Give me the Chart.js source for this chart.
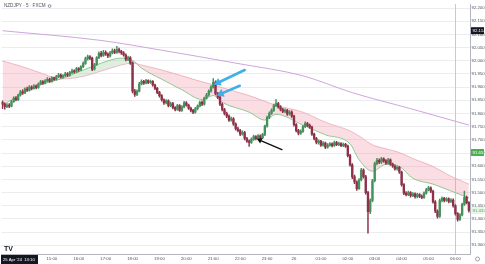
<!DOCTYPE html>
<html>
<head>
<meta charset="utf-8">
<script src="https://cdn.jsdelivr.net/npm/chart.js@4/dist/chart.umd.min.js"></script>
<style>
  html, body { margin: 0; padding: 0; background: #fff; }
  #wrap { width: 485px; height: 264px; position: relative; }
</style>
</head>
<body>
<div id="wrap"><canvas id="chart"></canvas></div>
<script>
// ── NZDJPY 5m (FXCM), 25 → 26 Apr 2024 ───────────────────────────
const symbolTitle = 'NZDJPY · 5 · FXCM';
const firstBarMinute = 13 * 60 + 10;   // first candle 13:10
const barMinutes = 5;
const firstOpen = 91.842;

const closes = [
  91.835, 91.826, 91.832, 91.828, 91.845, 91.858, 91.852, 91.870, 91.882, 91.878,
  91.893, 91.888, 91.900, 91.895, 91.904, 91.898, 91.912, 91.920, 91.915, 91.924,
  91.930, 91.922, 91.935, 91.929, 91.940, 91.946, 91.938, 91.944, 91.950, 91.945,
  91.955, 91.962, 91.958, 91.970, 91.965, 91.978, 91.990, 92.008, 92.015, 92.010,
  91.968, 91.985, 92.012, 92.028, 92.020, 92.032, 92.025, 92.018, 92.030, 92.038,
  92.032, 92.042, 92.036, 92.030, 92.022, 92.005, 92.012, 91.992, 91.885, 91.872,
  91.885, 91.912, 91.922, 91.915, 91.925, 91.918, 91.922, 91.908, 91.895, 91.880,
  91.868, 91.852, 91.840, 91.848, 91.830, 91.838, 91.822, 91.815, 91.830, 91.812,
  91.825, 91.840, 91.832, 91.820, 91.812, 91.805, 91.818, 91.828, 91.842, 91.835,
  91.858, 91.870, 91.885, 91.900, 91.918, 91.875, 91.862, 91.835, 91.815, 91.800,
  91.790, 91.775, 91.780, 91.760, 91.742, 91.735, 91.722, 91.728, 91.705, 91.695,
  91.690, 91.702, 91.712, 91.705, 91.715, 91.708, 91.720, 91.752, 91.785, 91.800,
  91.812, 91.830, 91.838, 91.825, 91.815, 91.808, 91.812, 91.798, 91.805, 91.790,
  91.758, 91.735, 91.725, 91.732, 91.750, 91.762, 91.755, 91.748, 91.722, 91.705,
  91.690, 91.695, 91.680, 91.688, 91.672, 91.680, 91.685, 91.678, 91.690, 91.682,
  91.686, 91.678, 91.683, 91.676, 91.640, 91.605, 91.560, 91.540, 91.515, 91.548,
  91.585, 91.560, 91.500, 91.428, 91.470, 91.545, 91.610, 91.622, 91.615, 91.628,
  91.620, 91.612, 91.624, 91.608, 91.600, 91.590, 91.596, 91.578, 91.530, 91.498,
  91.492, 91.500, 91.488, 91.495, 91.484, 91.492, 91.486, 91.482, 91.498, 91.510,
  91.518, 91.505, 91.465, 91.430, 91.410, 91.470, 91.478, 91.470, 91.476, 91.466,
  91.472, 91.450, 91.420, 91.398, 91.415, 91.455, 91.482, 91.462, 91.432
];

const highs = [
  91.848, 91.840, 91.838, 91.838, 91.850, 91.863, 91.864, 91.874, 91.888, 91.890,
  91.897, 91.900, 91.906, 91.905, 91.910, 91.909, 91.916, 91.926, 91.925, 91.929,
  91.936, 91.934, 91.940, 91.938, 91.945, 91.952, 91.950, 91.948, 91.956, 91.955,
  91.960, 91.968, 91.966, 91.975, 91.974, 91.982, 91.996, 92.014, 92.022, 92.020,
  92.014, 91.990, 92.016, 92.034, 92.036, 92.040, 92.038, 92.030, 92.036, 92.045,
  92.044, 92.055, 92.048, 92.040, 92.035, 92.026, 92.018, 92.016, 91.996, 91.892,
  91.890, 91.918, 91.928, 91.926, 91.930, 91.928, 91.927, 91.925, 91.912, 91.899,
  91.884, 91.872, 91.856, 91.853, 91.852, 91.843, 91.842, 91.826, 91.835, 91.834,
  91.830, 91.846, 91.845, 91.836, 91.824, 91.816, 91.823, 91.833, 91.847, 91.848,
  91.862, 91.876, 91.890, 91.906, 91.932, 91.924, 91.880, 91.866, 91.840, 91.820,
  91.805, 91.795, 91.786, 91.784, 91.765, 91.748, 91.740, 91.734, 91.732, 91.710,
  91.700, 91.708, 91.718, 91.716, 91.720, 91.719, 91.725, 91.756, 91.790, 91.806,
  91.818, 91.836, 91.853, 91.842, 91.830, 91.820, 91.818, 91.816, 91.811, 91.810,
  91.794, 91.762, 91.740, 91.738, 91.755, 91.768, 91.766, 91.760, 91.752, 91.726,
  91.710, 91.700, 91.698, 91.693, 91.692, 91.686, 91.690, 91.689, 91.695, 91.694,
  91.692, 91.690, 91.688, 91.687, 91.680, 91.645, 91.610, 91.566, 91.545, 91.553,
  91.592, 91.590, 91.565, 91.505, 91.476, 91.550, 91.616, 91.630, 91.628, 91.634,
  91.632, 91.625, 91.630, 91.628, 91.612, 91.605, 91.601, 91.600, 91.582, 91.534,
  91.504, 91.506, 91.504, 91.500, 91.499, 91.497, 91.496, 91.491, 91.503, 91.516,
  91.524, 91.522, 91.509, 91.470, 91.435, 91.475, 91.484, 91.482, 91.481, 91.480,
  91.477, 91.476, 91.454, 91.424, 91.420, 91.460, 91.506, 91.487, 91.466
];

const lows = [
  91.818, 91.816, 91.822, 91.822, 91.825, 91.842, 91.848, 91.849, 91.866, 91.872,
  91.875, 91.884, 91.885, 91.889, 91.892, 91.893, 91.895, 91.908, 91.910, 91.912,
  91.920, 91.918, 91.919, 91.925, 91.926, 91.936, 91.934, 91.934, 91.940, 91.940,
  91.942, 91.951, 91.953, 91.955, 91.960, 91.962, 91.974, 91.986, 92.002, 92.004,
  91.962, 91.964, 91.982, 92.008, 92.015, 92.016, 92.020, 92.012, 92.014, 92.026,
  92.027, 92.028, 92.030, 92.024, 92.017, 91.999, 92.000, 91.986, 91.878, 91.865,
  91.868, 91.882, 91.908, 91.910, 91.912, 91.913, 91.914, 91.904, 91.890, 91.875,
  91.862, 91.847, 91.834, 91.836, 91.825, 91.826, 91.817, 91.810, 91.812, 91.808,
  91.808, 91.821, 91.828, 91.815, 91.806, 91.799, 91.801, 91.814, 91.825, 91.830,
  91.832, 91.854, 91.866, 91.881, 91.896, 91.870, 91.856, 91.830, 91.810, 91.795,
  91.784, 91.770, 91.771, 91.755, 91.737, 91.730, 91.716, 91.718, 91.700, 91.690,
  91.675, 91.686, 91.698, 91.700, 91.701, 91.703, 91.704, 91.716, 91.748, 91.780,
  91.796, 91.808, 91.826, 91.820, 91.810, 91.803, 91.803, 91.793, 91.794, 91.785,
  91.752, 91.730, 91.719, 91.721, 91.728, 91.746, 91.750, 91.743, 91.717, 91.700,
  91.685, 91.684, 91.675, 91.676, 91.667, 91.668, 91.676, 91.673, 91.675, 91.678,
  91.678, 91.674, 91.674, 91.671, 91.635, 91.600, 91.553, 91.534, 91.508, 91.512,
  91.544, 91.555, 91.494, 91.346, 91.420, 91.465, 91.540, 91.605, 91.610, 91.611,
  91.615, 91.607, 91.608, 91.603, 91.595, 91.585, 91.585, 91.573, 91.524, 91.492,
  91.487, 91.488, 91.483, 91.484, 91.479, 91.480, 91.481, 91.477, 91.478, 91.494,
  91.506, 91.500, 91.460, 91.424, 91.403, 91.406, 91.465, 91.465, 91.466, 91.461,
  91.462, 91.445, 91.414, 91.392, 91.394, 91.411, 91.451, 91.457, 91.426
];

// ribbon (slow / fast average) and long average, read at a few candles
const ribbonBars = [0, 8, 17, 26, 35, 44, 53, 58, 62, 71, 80, 89, 94, 98, 110, 117, 122, 134, 144, 155, 159, 165, 171, 177, 183, 192, 200, 208];
const ribbonSlow = [91.999, 91.980, 91.954, 91.931, 91.939, 91.961, 91.984, 91.991, 91.984, 91.965, 91.943, 91.920, 91.909, 91.898,
                    91.868, 91.846, 91.831, 91.805, 91.767, 91.734, 91.715, 91.681, 91.666, 91.652, 91.629, 91.599, 91.562, 91.532];
const ribbonFast = [91.831, 91.872, 91.909, 91.931, 91.961, 91.991, 92.010, 92.002, 91.972, 91.930, 91.890, 91.853, 91.868, 91.842,
                    91.805, 91.775, 91.797, 91.756, 91.719, 91.685, 91.625, 91.581, 91.607, 91.599, 91.554, 91.532, 91.506, 91.480];
const longMaBars = [0, 44, 71, 104, 134, 156, 183, 208];
const longMa = [92.114, 92.077, 92.040, 91.991, 91.943, 91.879, 91.816, 91.756];

// x tick labels (hour marks)
const xTickTimes = ['15:00', '16:00', '17:00', '18:00', '19:00', '20:00', '21:00', '22:00', '23:00', '00:00', '01:00', '02:00', '03:00', '04:00', '05:00', '06:00'];
const xTickText  = ['15:00', '16:00', '17:00', '18:00', '19:00', '20:00', '21:00', '22:00', '23:00', '26',    '01:00', '02:00', '03:00', '04:00', '05:00', '06:00'];
const crosshairDate = "25 Apr '24  13:10";
const sessionLineTime = '06:00';

// right-axis price flags
const priceFlags = [
  { price: 92.114, bg: '#131722', fg: '#ffffff' },
  { price: 91.652, bg: '#4caf50', fg: '#ffffff' },
  { price: closes[closes.length - 1], bg: '#e8f4e9', fg: '#4caf50' },
];

// drawn arrows: [candle index, price]
const arrows = [
  { from: [108.0, 91.965], to: [94.2, 91.909], color: '#3fb0e8', width: 2.6, head: 7 },
  { from: [105.8, 91.905], to: [95.5, 91.868], color: '#3fb0e8', width: 2.6, head: 7 },
  { from: [124.6, 91.663], to: [113.4, 91.704], color: '#111111', width: 1.4, head: 5 },
];

const yMin = 91.267;
const yMax = 92.215;
const FONT = "'Liberation Sans', Arial, sans-serif";
const bullColor = '#45915b';
const bearColor = '#8e3048';

// ── derived ─────────────────────────────────────────────────────
const opens = closes.map((c, i) => (i === 0 ? firstOpen : closes[i - 1]));
const barTimes = closes.map((_, i) => {
  const m = (firstBarMinute + i * barMinutes) % 1440;
  return String(Math.floor(m / 60)).padStart(2, '0') + ':' + String(m % 60).padStart(2, '0');
});
const candleColors = closes.map((c, i) => (c >= opens[i] ? bullColor : bearColor));

function drawArrow(ctx, x1, y1, x2, y2, color, width, head) {
  const ang = Math.atan2(y2 - y1, x2 - x1);
  const bx = x2 - Math.cos(ang) * head;
  const by = y2 - Math.sin(ang) * head;
  ctx.save();
  ctx.strokeStyle = color;
  ctx.fillStyle = color;
  ctx.lineWidth = width;
  ctx.lineCap = 'round';
  ctx.beginPath();
  ctx.moveTo(x1, y1);
  ctx.lineTo(bx, by);
  ctx.stroke();
  const hw = head * 0.6;
  ctx.beginPath();
  ctx.moveTo(x2, y2);
  ctx.lineTo(bx + Math.sin(ang) * hw, by - Math.cos(ang) * hw);
  ctx.lineTo(bx - Math.sin(ang) * hw, by + Math.cos(ang) * hw);
  ctx.closePath();
  ctx.fill();
  ctx.restore();
}

const overlay = {
  id: 'overlay',
  beforeDatasetsDraw(chart) {
    const { ctx, chartArea, scales: { x } } = chart;
    const px = Math.round(x.getPixelForValue(barTimes.indexOf(sessionLineTime))) + 0.5;
    ctx.save();
    ctx.strokeStyle = '#c8cad0';
    ctx.lineWidth = 1;
    ctx.beginPath();
    ctx.moveTo(px, chartArea.top);
    ctx.lineTo(px, chartArea.bottom);
    ctx.stroke();
    ctx.restore();
  },
  afterDatasetsDraw(chart) {
    const { ctx, scales: { x, y } } = chart;
    arrows.forEach(a => {
      drawArrow(ctx,
        x.getPixelForValue(a.from[0]), y.getPixelForValue(a.from[1]),
        x.getPixelForValue(a.to[0]), y.getPixelForValue(a.to[1]),
        a.color, a.width, a.head);
    });
  },
  afterDraw(chart) {
    const { ctx, chartArea, scales: { y }, width, height } = chart;
    ctx.save();
    // header
    ctx.font = `4.6px ${FONT}`;
    ctx.fillStyle = '#50535e';
    ctx.textBaseline = 'middle';
    ctx.textAlign = 'left';
    ctx.fillText(symbolTitle, 4, 6);
    const tw = ctx.measureText(symbolTitle).width;
    ctx.strokeStyle = '#50535e';
    ctx.lineWidth = 0.6;
    ctx.beginPath();
    ctx.arc(4 + tw + 4, 6, 1.4, 0, Math.PI * 2);
    ctx.stroke();

    // price flags on the right axis
    ctx.font = `4.4px ${FONT}`;
    priceFlags.forEach(f => {
      const py = y.getPixelForValue(f.price);
      ctx.fillStyle = f.bg;
      ctx.fillRect(chartArea.right + 1, py - 3.5, width - chartArea.right - 2, 7);
      ctx.fillStyle = f.fg;
      ctx.textAlign = 'left';
      ctx.fillText(f.price.toFixed(3), chartArea.right + 2.5, py + 0.3);
    });

    // crosshair date box, bottom left
    ctx.fillStyle = '#131722';
    ctx.fillRect(1, chartArea.bottom + 1, 37, height - chartArea.bottom - 1);
    ctx.fillStyle = '#ffffff';
    ctx.font = `4.2px ${FONT}`;
    ctx.fillText(crosshairDate, 3, (chartArea.bottom + height) / 2 + 0.5);

    // logo
    ctx.fillStyle = '#131722';
    ctx.font = `bold 7px ${FONT}`;
    ctx.fillText('TV', 4, chartArea.bottom - 5);

    // settings glyph, bottom right
    ctx.strokeStyle = '#787b86';
    ctx.lineWidth = 0.7;
    ctx.beginPath();
    ctx.arc(width - 7.5, (chartArea.bottom + height) / 2, 2, 0, Math.PI * 2);
    ctx.stroke();
    ctx.restore();
  }
};

new Chart(document.getElementById('chart'), {
  type: 'bar',
  data: {
    labels: barTimes,
    datasets: [
      {
        label: 'wick',
        data: closes.map((_, i) => [lows[i], highs[i]]),
        backgroundColor: candleColors,
        barThickness: 0.8,
        grouped: false,
        order: 1,
      },
      {
        label: 'body',
        data: closes.map((c, i) => [opens[i], c]),
        backgroundColor: candleColors,
        barThickness: 1.7,
        grouped: false,
        order: 0,
      },
      {
        type: 'line',
        label: 'slow',
        data: ribbonBars.map((b, k) => ({ x: barTimes[b], y: ribbonSlow[k] })),
        borderColor: '#f2a9bb',
        borderWidth: 0.8,
        pointRadius: 0,
        cubicInterpolationMode: 'monotone',
        order: 3,
      },
      {
        type: 'line',
        label: 'fast',
        data: ribbonBars.map((b, k) => ({ x: barTimes[b], y: ribbonFast[k] })),
        borderColor: '#74c27a',
        borderWidth: 0.8,
        pointRadius: 0,
        cubicInterpolationMode: 'monotone',
        fill: { target: 2, above: 'rgba(160, 210, 165, 0.35)', below: 'rgba(240, 128, 155, 0.27)' },
        order: 2,
      },
      {
        type: 'line',
        label: 'long',
        data: longMaBars.map((b, k) => ({ x: barTimes[b], y: longMa[k] })),
        borderColor: '#c99bd8',
        borderWidth: 0.9,
        pointRadius: 0,
        cubicInterpolationMode: 'monotone',
        order: 4,
      },
    ],
  },
  options: {
    responsive: true,
    maintainAspectRatio: false,
    animation: false,
    layout: { padding: 0 },
    plugins: { legend: { display: false }, tooltip: { enabled: false } },
    scales: {
      x: {
        offset: true,
        afterFit: s => { s.height = 10; },
        grid: { display: false, drawTicks: false },
        border: { color: '#b2b5be' },
        ticks: {
          autoSkip: false,
          maxRotation: 0,
          padding: 2.5,
          color: '#50535e',
          font: { size: 4.3, family: FONT },
          callback: (v, i) => {
            const k = xTickTimes.indexOf(barTimes[i]);
            return k >= 0 ? xTickText[k] : '';
          },
        },
      },
      y: {
        position: 'right',
        min: yMin,
        max: yMax,
        afterFit: s => { s.width = 15; },
        grid: { color: '#ebecef', drawTicks: false },
        border: { color: '#b2b5be' },
        ticks: {
          stepSize: 0.05,
          includeBounds: false,
          padding: 1.5,
          color: '#50535e',
          font: { size: 4.3, family: FONT },
          callback: v => v.toFixed(3),
        },
      },
    },
  },
  plugins: [overlay],
});
</script>
</body>
</html>
